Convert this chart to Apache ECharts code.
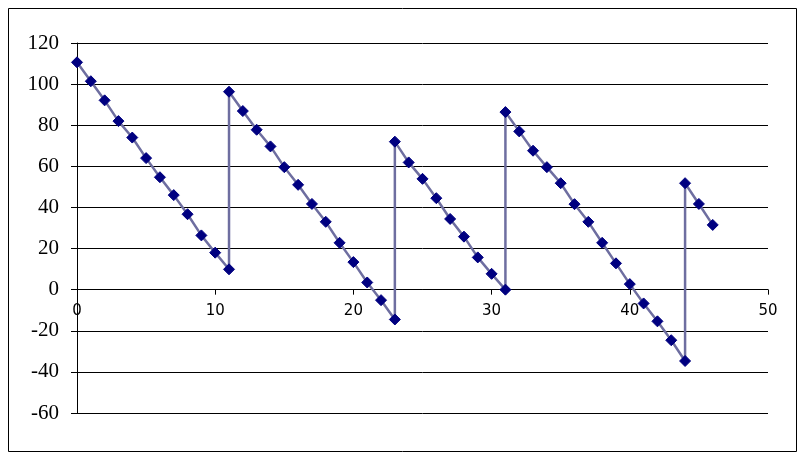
<!DOCTYPE html>
<html><head><meta charset="utf-8">
<script src="https://cdn.jsdelivr.net/npm/echarts@6/dist/echarts.min.js"></script>
<style>html,body{margin:0;padding:0;background:#fff}#c{width:805px;height:458px}</style>
</head><body><div id="c"></div>
<script>
var xValues = [0,1,2,3,4,5,6,7,8,9,10,11,
  11,12,13,14,15,16,17,18,19,20,21,22,23,
  23,24,25,26,27,28,29,30,31,
  31,32,33,34,35,36,37,38,39,40,41,42,43,44,
  44,45,46];
var yValues = [110.6,101.4,92.1,82,74,64,54.7,46,36.7,26.4,18,9.9,
  96.3,86.9,77.8,69.7,59.6,51,41.7,33,22.8,13.4,3.5,-5.1,-14.5,
  72,61.9,53.9,44.5,34.4,25.8,15.7,7.7,0,
  86.4,77,67.6,59.6,51.8,41.6,33,22.8,12.8,2.7,-6.7,-15.4,-24.6,-34.7,
  51.8,41.7,31.5];
var xTicks = {min:0, max:50, interval:10};
var yTicks = {min:-60, max:120, interval:20};

var pts = xValues.map(function(x,i){return [x, yValues[i]];});
var gridTop = 43, gridBottom = 45, H = 458;
var plotH = H - gridTop - gridBottom;
var zeroOffset = -plotH * (0 - yTicks.min) / (yTicks.max - yTicks.min);
var chart = echarts.init(document.getElementById('c'));
chart.setOption({
  animation:false,
  backgroundColor:'#fff',
  graphic:[{type:'rect', shape:{x:8.5,y:8.5,width:788,height:443}, style:{fill:'none', stroke:'#000', lineWidth:1}}],
  grid:{left:77, right:37, top:gridTop, bottom:gridBottom},
  xAxis:{type:'value', min:xTicks.min, max:xTicks.max, interval:xTicks.interval,
    offset: zeroOffset,
    axisLine:{onZero:false, lineStyle:{color:'#000', width:1}},
    axisTick:{show:true, inside:false, length:5, lineStyle:{color:'#000'}},
    axisLabel:{color:'#000', fontFamily:'DejaVu Sans', fontSize:15, margin:14},
    splitLine:{show:false}},
  yAxis:{type:'value', min:yTicks.min, max:yTicks.max, interval:yTicks.interval,
    axisLine:{show:true, lineStyle:{color:'#000', width:1}},
    axisTick:{show:true, length:6, lineStyle:{color:'#000'}},
    axisLabel:{color:'#000', fontFamily:'Liberation Serif', fontSize:21, margin:18},
    splitLine:{show:true, lineStyle:{color:'#000', width:1}}},
  series:[{type:'line', data:pts, symbol:'diamond', symbolSize:11,
    lineStyle:{color:'#6E6EA0', width:2.5},
    itemStyle:{color:'#000080', borderColor:'#000080'}}]
});
</script></body></html>
